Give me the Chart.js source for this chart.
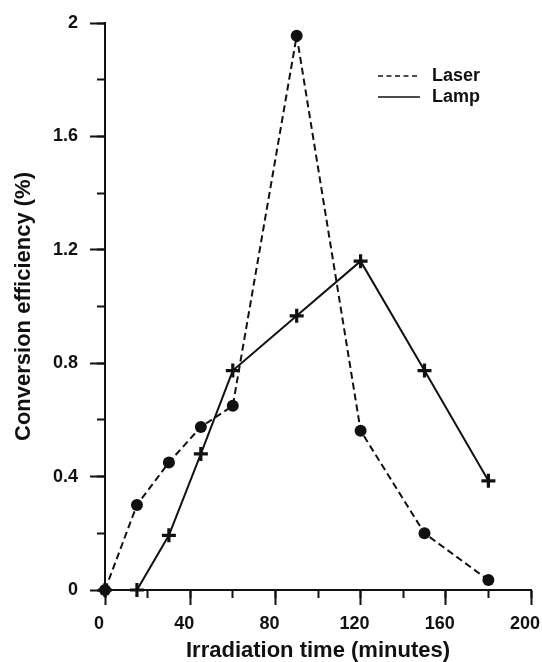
<!DOCTYPE html>
<html>
<head>
<meta charset="utf-8">
<script src="https://cdn.jsdelivr.net/npm/chart.js@4.4.1/dist/chart.umd.min.js"></script>
<style>
  body { margin: 0; background: #fff; }
  #wrap { width: 542px; height: 662px; }
</style>
</head>
<body>
<div id="wrap"><canvas id="effChart"></canvas></div>
<script>
// irradiation time (minutes)
const times = [0, 15, 30, 45, 60, 90, 120, 150, 180];
// conversion efficiency (%)
const laser = [0, 0.30, 0.45, 0.575, 0.65, 1.955, 0.562, 0.20, 0.035];
const lamp = [0, 0, 0.193, 0.48, 0.774, 0.967, 1.16, 0.774, 0.385];

const seriesNames = ['Laser', 'Lamp'];
const xRange = [0, 200];
const yRange = [0, 2];

const ink = '#111';
const fontFam = '"Liberation Sans", Arial, Helvetica, sans-serif';

function toPoints(ys) {
  return times.map((t, i) => ({ x: t, y: ys[i] }));
}

// keep the plot edges fixed, labels may hang over
function noEdgePad(scale) {
  scale.paddingLeft = 0;
  scale.paddingRight = 0;
  scale.paddingTop = 0;
  scale.paddingBottom = 0;
}

// legend drawn in the upper right of the plot, like the original figure
const cornerLegend = {
  id: 'cornerLegend',
  afterDraw(chart) {
    const { ctx, chartArea } = chart;
    const x0 = chartArea.left + 273;
    const y0 = chartArea.top + 53;
    const rows = [
      { label: seriesNames[0], dash: [5, 3.5] },
      { label: seriesNames[1], dash: [] }
    ];
    ctx.save();
    ctx.strokeStyle = ink;
    ctx.fillStyle = ink;
    ctx.lineWidth = 1.6;
    ctx.font = 'bold 18px ' + fontFam;
    ctx.textBaseline = 'middle';
    rows.forEach((r, i) => {
      const y = y0 + i * 21;
      ctx.setLineDash(r.dash);
      ctx.beginPath();
      ctx.moveTo(x0, y);
      ctx.lineTo(x0 + 42, y);
      ctx.stroke();
      ctx.setLineDash([]);
      ctx.fillText(r.label, x0 + 54, y);
    });
    ctx.restore();
  }
};

const ctx = document.getElementById('effChart');

new Chart(ctx, {
  type: 'line',
  data: {
    datasets: [{
      label: seriesNames[0],
      data: toPoints(laser),
      borderColor: ink,
      backgroundColor: ink,
      borderWidth: 2,
      borderDash: [7, 4],
      pointStyle: 'circle',
      pointRadius: 6,
      pointBorderWidth: 0,
      pointBackgroundColor: ink,
      tension: 0,
      clip: false
    }, {
      label: seriesNames[1],
      data: toPoints(lamp),
      borderColor: ink,
      backgroundColor: ink,
      borderWidth: 2,
      pointStyle: 'cross',
      pointRadius: 7,
      pointBorderWidth: 3.2,
      pointBorderColor: ink,
      tension: 0,
      clip: false
    }]
  },
  options: {
    responsive: true,
    maintainAspectRatio: false,
    animation: false,
    layout: {
      padding: { top: 23, right: 11, left: 0, bottom: 0 }
    },
    plugins: {
      legend: { display: false },
      tooltip: { enabled: false }
    },
    scales: {
      x: {
        type: 'linear',
        position: 'bottom',
        weight: 1,
        min: xRange[0],
        max: xRange[1],
        afterFit: (scale) => { scale.height = 72; noEdgePad(scale); },
        ticks: {
          stepSize: 40,
          color: ink,
          padding: 8,
          labelOffset: -6,
          maxRotation: 0,
          font: { family: fontFam, size: 18, weight: 'bold' }
        },
        grid: {
          drawOnChartArea: false,
          tickLength: 15,
          tickWidth: 2,
          tickColor: ink
        },
        border: { color: ink, width: 2 },
        title: {
          display: true,
          text: 'Irradiation time (minutes)',
          color: ink,
          padding: { top: 0, bottom: 0 },
          font: { family: fontFam, size: 22, weight: 'bold', lineHeight: 1.0 }
        }
      },
      xMinor: {
        type: 'linear',
        position: 'bottom',
        weight: 0,
        min: xRange[0],
        max: xRange[1],
        afterFit: (scale) => { scale.height = 0; noEdgePad(scale); },
        ticks: { display: false, stepSize: 20 },
        grid: {
          drawOnChartArea: false,
          tickLength: 8,
          tickWidth: 2,
          tickColor: ink
        },
        border: { display: false }
      },
      y: {
        position: 'left',
        weight: 1,
        min: yRange[0],
        max: yRange[1],
        afterFit: (scale) => { scale.width = 105; noEdgePad(scale); },
        ticks: {
          stepSize: 0.4,
          color: ink,
          padding: 12,
          callback: (v) => Number(v.toFixed(1)).toString(),
          font: { family: fontFam, size: 18, weight: 'bold' }
        },
        grid: {
          drawOnChartArea: false,
          tickLength: 15,
          tickWidth: 2,
          tickColor: ink
        },
        border: { color: ink, width: 2 },
        title: {
          display: true,
          text: 'Conversion efficiency (%)',
          color: ink,
          padding: { top: 11, bottom: 0 },
          font: { family: fontFam, size: 22, weight: 'bold' }
        }
      },
      yMinor: {
        position: 'left',
        weight: 0,
        min: yRange[0],
        max: yRange[1],
        afterFit: (scale) => { scale.width = 0; noEdgePad(scale); },
        ticks: { display: false, stepSize: 0.2 },
        grid: {
          drawOnChartArea: false,
          tickLength: 8,
          tickWidth: 2,
          tickColor: ink
        },
        border: { display: false }
      }
    }
  },
  plugins: [cornerLegend]
});
</script>
</body>
</html>
